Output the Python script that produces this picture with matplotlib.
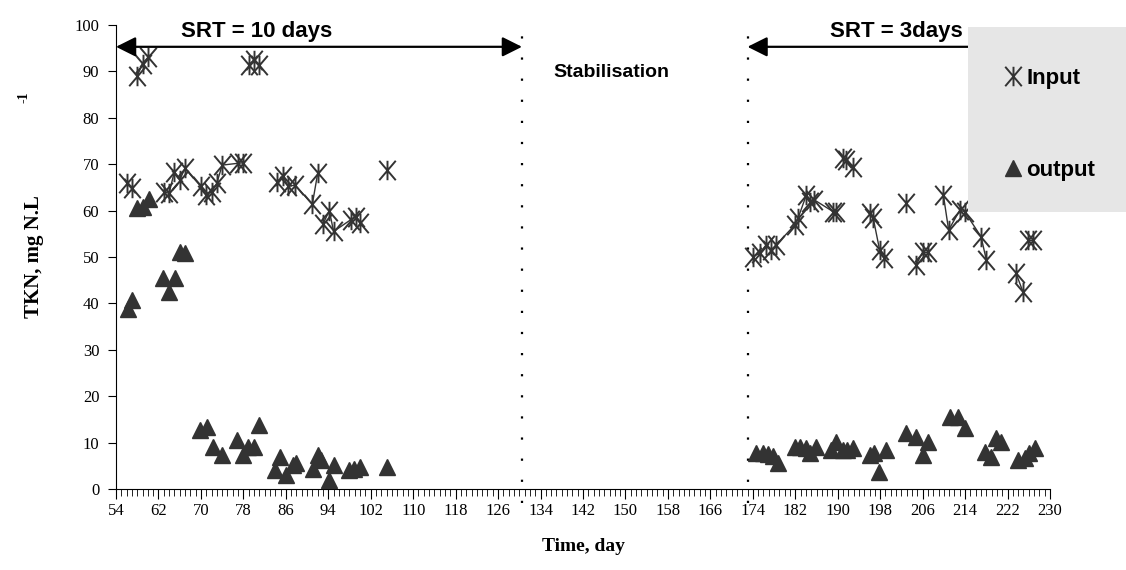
import numpy as np
import matplotlib.pyplot as plt
from matplotlib.patches import Rectangle
from matplotlib.lines import Line2D
from matplotlib.path import Path

# TKN input / output
input_day = [56, 57, 58, 59, 60, 63, 64, 65, 66, 67, 70, 71, 72, 73, 74, 77, 78,
             79, 80, 81, 84.3, 85.5, 86.4, 87.7, 91, 92, 93, 94.2, 95, 98.2, 99.3, 100, 105,
             174, 175.3, 176.5, 177.5, 178.4, 181.9, 182.5, 184.1, 184.7, 185.6, 189.1, 189.7,
             190.9, 191.6, 192.9, 196, 196.7, 197.9, 198.8, 202.9, 204.8, 206, 207, 209.9,
             210.9, 213, 213.9, 217, 218, 223.6, 224.9, 225.8, 226.8]
input_tkn = [66, 64.8, 89, 91.7, 93, 64.1, 63.7, 68.4, 66.6, 69.1, 65.2, 63.4, 64.1, 65.9, 69.8, 70.2, 70.3,
             91.4, 92.5, 91.4, 66.2, 67.5, 65.2, 65.5, 61.4, 68, 57.1, 60, 55.5, 58, 58.7, 57.4, 68.8,
             50.1, 50.8, 52.6, 51.5, 52.6, 56.9, 58.3, 63.4, 61.9, 62.3, 59.8, 59.8,
             71.3, 70.9, 69.5, 59.4, 58.3, 51.5, 49.7, 61.7, 48.3, 51.1, 51.1, 63.4,
             55.8, 60.1, 59.8, 54.4, 49.4, 46.5, 42.5, 53.7, 53.7]

output_day = [56.3, 57.1, 58, 59, 60.3, 62.9, 64, 65.1, 66, 67, 69.8, 71.1, 72.3, 73.9, 76.8, 77.9,
              78.9, 80, 81, 84, 84.9, 86.1, 87.3, 88, 91.2, 92, 92.7, 94.2, 95, 98, 98.8, 100, 105.1,
              174.6, 175.9, 176.8, 177.8, 178.7, 181.9, 182.8, 184.1, 184.8, 185.9, 188.8, 189.7,
              190.9, 191.8, 192.9, 196, 196.9, 197.7, 199.1, 202.9, 204.8, 206, 207, 211.1, 212.7,
              213.9, 217.7, 218.9, 219.8, 220.8, 223.9, 225.2, 226.1, 227.1]
output_tkn = [38.9, 40.7, 60.5, 60.8, 62.6, 45.4, 42.5, 45.4, 51.1, 50.8, 12.7, 13.4, 9.1, 7.3, 10.6, 7.3,
              9.1, 9.1, 13.8, 4.1, 7, 3, 5.2, 5.5, 4.4, 7.3, 6.2, 1.9, 5.2, 4.1, 4.4, 4.8, 4.8,
              7.7, 7.7, 7.5, 7.1, 5.5, 9.1, 9.1, 8.8, 7.7, 9.1, 8.4, 10.2,
              8.4, 8.4, 8.8, 7.3, 7.7, 3.7, 8.4, 12, 11.3, 7.3, 10.2, 15.6, 15.6,
              13.1, 8, 7, 10.9, 10.2, 6.2, 6.6, 7.7, 8.8]

periods = [(54, 130.5, "SRT = 10 days"), (173, 230.8, "SRT = 3days")]
x_ticks = np.arange(54, 231, 8)
y_ticks = np.arange(0, 101, 10)

sans = ['Liberation Sans Narrow', 'Liberation Sans', 'DejaVu Sans']
serif = ['Liberation Serif', 'DejaVu Serif']
dark = '#333333'

# excel style asterisk: an X with a vertical bar through it
star = Path([(0, -1), (0, 1), (-0.85, -1), (0.85, 1), (-0.85, 1), (0.85, -1)],
            [Path.MOVETO, Path.LINETO, Path.MOVETO, Path.LINETO, Path.MOVETO, Path.LINETO])

fig = plt.figure(figsize=(11.26, 5.70), dpi=100)
ax = fig.add_axes([116/1126, 1-489/570, (1050-116)/1126, (489-25)/570])
ax.set_facecolor('none')

# grey legend panel behind everything
fig.patches.append(Rectangle((968/1126, 1-212/570), (1126-968)/1126, (212-27)/570,
                             transform=fig.transFigure, facecolor='#e6e6e6',
                             edgecolor='none', zorder=0))

# thin line joining close consecutive input points
for i in range(len(input_day)-1):
    if input_day[i+1]-input_day[i] <= 3.5 and abs(input_tkn[i+1]-input_tkn[i]) <= 8:
        ax.plot(input_day[i:i+2], input_tkn[i:i+2], color=dark, lw=1, zorder=2)
ax.plot(input_day, input_tkn, linestyle='none', marker=star, ms=14, mew=1.4,
        color=dark, zorder=3)
ax.plot(output_day, output_tkn, linestyle='none', marker='^', ms=12,
        color=dark, mec=dark, zorder=3)

# dotted separators
for xd, top in [(130.5, 98), (173, 99.5)]:
    ax.plot([xd, xd], [-3, top], color='black', lw=1.6, linestyle=(0, (1, 8.5)),
            clip_on=False, zorder=1)

for x0, x1, lab in periods:
    ax.annotate('', xy=(x1, 95.3), xytext=(x0, 95.3), annotation_clip=False,
                arrowprops=dict(arrowstyle='<|-|>', mutation_scale=30, lw=1.6,
                                color='black', shrinkA=0, shrinkB=0))
ax.text(80.5, 98.5, periods[0][2], ha='center', va='center', fontsize=16,
        fontweight='bold', family=sans)
ax.text(201, 98.5, periods[1][2], ha='center', va='center', fontsize=16,
        fontweight='bold', family=sans)
ax.text(147.4, 89.8, "Stabilisation", ha='center', va='center', fontsize=14,
        fontweight='bold', family=sans)

ax.set_xlim(54, 230)
ax.set_ylim(0, 100)
ax.spines['right'].set_visible(False)
ax.spines['top'].set_visible(False)
ax.set_xticks(x_ticks)
ax.set_xticks(np.arange(54, 231, 1), minor=True)
ax.set_yticks(y_ticks)
ax.tick_params(axis='x', which='major', length=7, direction='out', pad=3)
ax.tick_params(axis='x', which='minor', length=5, direction='out')
ax.tick_params(axis='y', length=6, direction='out', pad=6)
for lab in ax.get_xticklabels() + ax.get_yticklabels():
    lab.set_family(serif)
    lab.set_fontsize(12)

ax.set_xlabel("Time, day", family=serif, fontweight='bold', fontsize=14, labelpad=14)
ax.set_ylabel("TKN, mg N.L", family=serif, fontweight='bold', fontsize=15, labelpad=22)
fig.text(24/1126, 1-97/570, "-1", rotation=90, ha='center', va='center',
         family=serif, fontweight='bold', fontsize=10)

handles = [Line2D([], [], linestyle='none', marker=star, ms=14, mew=1.4, color=dark),
           Line2D([], [], linestyle='none', marker='^', ms=12, color=dark)]
fig.legend(handles, ["Input", "output"], loc='upper left',
           bbox_to_anchor=(982/1126, 1-48/570), frameon=False, handlelength=1,
           handletextpad=0.1, labelspacing=3.2,
           prop=dict(family=sans, weight='bold', size=16))

fig.savefig('out.png', dpi=100)
